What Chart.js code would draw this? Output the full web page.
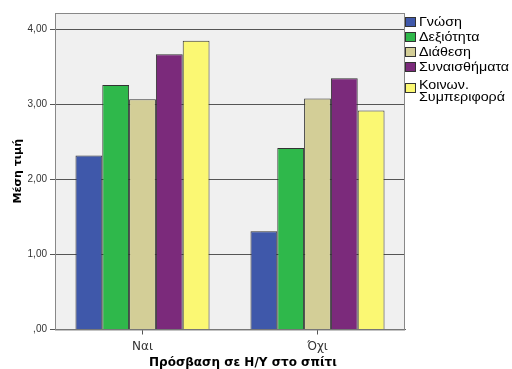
<!DOCTYPE html>
<html>
<head>
<meta charset="utf-8">
<script src="https://cdn.jsdelivr.net/npm/chart.js@4"></script>
<style>
    body { margin: 0; background: #fff; }
    #wrap { position: relative; width: 512px; height: 369px; overflow: hidden; }
    #legend { position: absolute; left: 405px; top: 17px; font: 12px "Liberation Sans", Arial, sans-serif; color: #000; }
    .item { position: relative; height: 15px; line-height: 11px; padding-left: 14px; white-space: nowrap; }
    .item .txt { display: inline-block; transform: scaleX(1.19); transform-origin: left center; }
    .item .box { position: absolute; left: 0; top: 0; width: 9px; height: 8px; border: 1px solid #333; }
    .item.two { height: 26px; line-height: 12px; margin-top: 2px; }
    .item.two .box { top: 4px; }
    #xtitle { position: absolute; left: 0; width: 486px; top: 355px; text-align: center; font: bold 12px "DejaVu Sans", sans-serif; color: #000; }
</style>
</head>
<body>
<div id="wrap">
    <canvas id="chart" width="512" height="369"></canvas>
    <div id="legend"></div>
    <div id="xtitle">Πρόσβαση σε Η/Υ στο σπίτι</div>
</div>
<script>
// Categories and series (mean values)
const categories = ['Ναι', 'Όχι'];
const seriesNames = ['Γνώση', 'Δεξιότητα', 'Διάθεση', 'Συναισθήματα', 'Κοινων.\nΣυμπεριφορά'];
const gnosi = [2.32, 1.31];
const dexiotita = [3.26, 2.42];
const diathesi = [3.07, 3.08];
const synaisthimata = [3.67, 3.35];
const koinSymperifora = [3.85, 2.92];
const seriesColors = ['#3f58aa', '#2fb84b', '#d3ce97', '#7b2a7b', '#fbf873'];
const yTicks = [0, 1, 2, 3, 4];

const seriesData = [gnosi, dexiotita, diathesi, synaisthimata, koinSymperifora];

// Grey plot area with a frame, like SPSS output
const plotBackground = {
    id: 'plotBackground',
    beforeDraw(chart) {
        const { ctx, chartArea: a } = chart;
        ctx.save();
        ctx.fillStyle = '#f0f0f0';
        ctx.fillRect(a.left, a.top, a.right - a.left, a.bottom - a.top);
        ctx.restore();
    },
    beforeDatasetsDraw(chart) {
        const { ctx, chartArea: a } = chart;
        ctx.save();
        ctx.strokeStyle = '#888';
        ctx.lineWidth = 1;
        ctx.strokeRect(a.left + 0.5, a.top + 0.5, a.right - a.left - 1, a.bottom - a.top);
        ctx.restore();
    }
};

const datasets = seriesNames.map((name, i) => ({
    label: name,
    data: seriesData[i],
    backgroundColor: seriesColors[i],
    borderColor: '#333',
    borderWidth: 1,
    categoryPercentage: 0.766,
    barPercentage: 1
}));

const ctx = document.getElementById('chart').getContext('2d');
new Chart(ctx, {
    type: 'bar',
    data: { labels: categories, datasets: datasets },
    options: {
        responsive: false,
        animation: false,
        devicePixelRatio: 1,
        layout: { padding: { top: 13, right: 107, bottom: 0, left: 0 } },
        plugins: {
            legend: { display: false },
            tooltip: { enabled: false }
        },
        scales: {
            x: {
                afterFit(scale) { scale.height = 39.5; },
                grid: { drawOnChartArea: false, offset: false, tickLength: 5, color: '#555' },
                border: { color: '#666' },
                ticks: { color: '#333', padding: 5, font: { family: 'DejaVu Sans', size: 12 } }
            },
            y: {
                min: 0,
                max: 4.22,
                afterFit(scale) { scale.width = 55; },
                afterBuildTicks(scale) { scale.ticks = yTicks.map(v => ({ value: v })); },
                grid: { color: '#555', tickLength: 5 },
                border: { color: '#666' },
                ticks: {
                    color: '#333',
                    padding: 3,
                    font: { family: 'Liberation Sans', size: 10 },
                    callback: v => v === 0 ? ',00' : v.toFixed(2).replace('.', ',')
                },
                title: {
                    display: true,
                    text: 'Μέση τιμή',
                    color: '#000',
                    padding: { top: 12, bottom: 0 },
                    font: { family: 'DejaVu Sans', size: 11, weight: 'bold' }
                }
            }
        }
    },
    plugins: [plotBackground]
});

// Legend drawn as html so the two-line label fits
const legend = document.getElementById('legend');
seriesNames.forEach((name, i) => {
    const item = document.createElement('div');
    const lines = name.split('\n');
    item.className = lines.length > 1 ? 'item two' : 'item';
    item.innerHTML = '<span class="box" style="background:' + seriesColors[i] + '"></span>' +
        '<span class="txt">' + lines.join('<br>') + '</span>';
    legend.appendChild(item);
});
</script>
</body>
</html>
